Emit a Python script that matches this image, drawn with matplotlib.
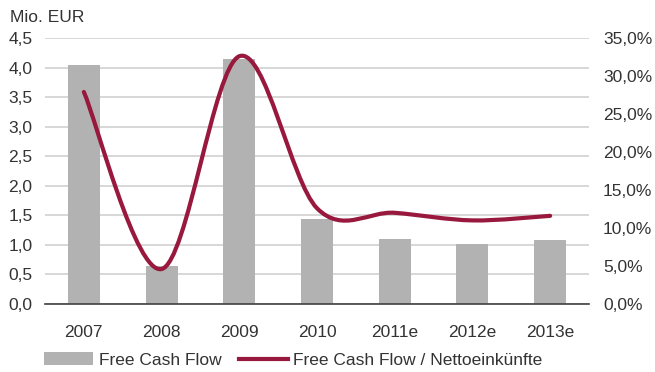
import matplotlib
matplotlib.use("Agg")
import matplotlib.pyplot as plt
from matplotlib.path import Path
from matplotlib.patches import PathPatch
from matplotlib.lines import Line2D
from matplotlib.patches import Patch
from matplotlib.ticker import FuncFormatter

categories = ["2007", "2008", "2009", "2010", "2011e", "2012e", "2013e"]
fcf = [4.05, 0.64, 4.15, 1.44, 1.10, 1.02, 1.08]
fcf_ratio = [27.9, 4.6, 32.6, 12.6, 12.0, 11.0, 11.6]
left_ticks = [0, 0.5, 1.0, 1.5, 2.0, 2.5, 3.0, 3.5, 4.0, 4.5]
right_ticks = [0, 5, 10, 15, 20, 25, 30, 35]

plt.rcParams['font.family'] = ['Liberation Sans', 'DejaVu Sans']
TXT = '#333333'
BAR = '#b2b2b2'
LINE = '#98193d'
FS = 12.5

W, H = 655, 372
fig = plt.figure(figsize=(W / 100, H / 100), dpi=100)
ax = fig.add_axes([45 / W, 1 - 304 / H, (589 - 45) / W, (304 - 38) / H])

x = list(range(len(categories)))
ax.bar(x, fcf, width=0.41, color=BAR, zorder=2)
ax.set_xlim(-0.5, len(categories) - 0.5)
ax.set_ylim(0, 4.5)
ax.set_yticks(left_ticks)
ax.yaxis.set_major_formatter(FuncFormatter(lambda v, p: f"{v:.1f}".replace('.', ',')))
ax.set_xticks(x)
ax.set_xticklabels(categories)
ax.grid(axis='y', color='#d4d4d4', linewidth=1.3, zorder=0)
ax.set_axisbelow(True)
for s in ['top', 'right', 'left']:
    ax.spines[s].set_visible(False)
ax.spines['bottom'].set_color('#404040')
ax.spines['bottom'].set_linewidth(1.2)
ax.tick_params(axis='both', length=0, labelsize=FS, labelcolor=TXT)
ax.tick_params(axis='y', pad=9)
ax.tick_params(axis='x', pad=15)

ax2 = ax.twinx()
ax2.set_ylim(0, 35)
ax2.set_yticks(right_ticks)
ax2.yaxis.set_major_formatter(FuncFormatter(lambda v, p: f"{v:.1f}%".replace('.', ',')))
for s in ax2.spines.values():
    s.set_visible(False)
ax2.tick_params(axis='y', length=0, labelsize=FS, labelcolor=TXT, pad=10)

# smooth line (Excel-like bezier smoothing)
pts = list(zip(x, fcf_ratio))
n = len(pts)
verts = [pts[0]]
codes = [Path.MOVETO]
for i in range(n - 1):
    p0 = pts[i - 1] if i > 0 else pts[i]
    p1 = pts[i]
    p2 = pts[i + 1]
    p3 = pts[i + 2] if i + 2 < n else pts[i + 1]
    c1 = (p1[0] + (p2[0] - p0[0]) / 6, p1[1] + (p2[1] - p0[1]) / 6)
    c2 = (p2[0] - (p3[0] - p1[0]) / 6, p2[1] - (p3[1] - p1[1]) / 6)
    verts += [c1, c2, p2]
    codes += [Path.CURVE4] * 3
ax2.add_patch(PathPatch(Path(verts, codes), facecolor='none', edgecolor=LINE,
                        linewidth=3.0, capstyle='round', joinstyle='round', zorder=3))

fig.text(10 / W, 1 - 17 / H, "Mio. EUR", fontsize=FS, color=TXT, va='center', ha='left')

handles = [Patch(facecolor=BAR, edgecolor='none'),
           Line2D([0], [0], color=LINE, linewidth=3.0)]
fig.legend(handles, ["Free Cash Flow", "Free Cash Flow / Nettoeinkünfte"],
           loc='center left', bbox_to_anchor=(44 / W, 1 - 360 / H), ncol=2,
           frameon=False, fontsize=FS, labelcolor=TXT, borderpad=0, borderaxespad=0,
           handlelength=2.85, handleheight=0.7, handletextpad=0.3, columnspacing=1.0)

fig.savefig("out.png", dpi=100)
